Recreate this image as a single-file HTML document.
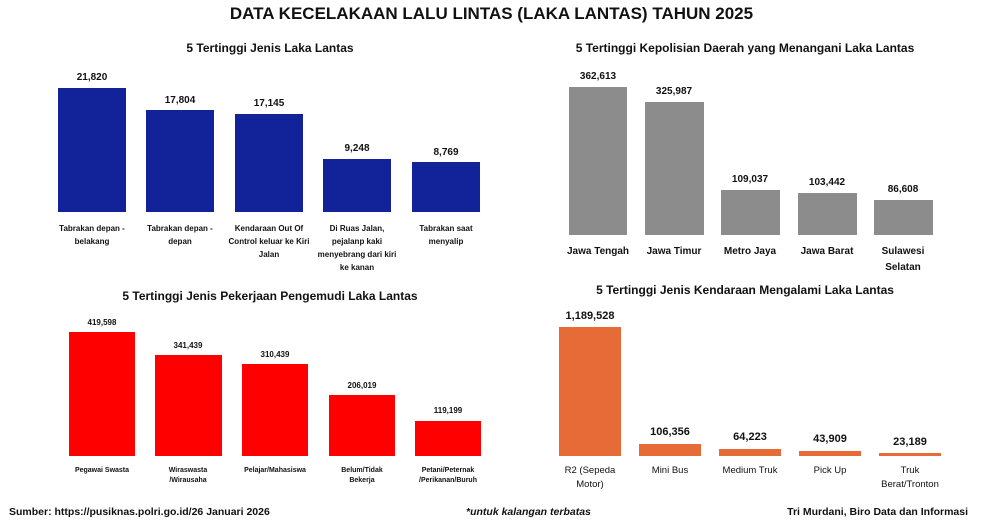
<!DOCTYPE html>
<html><head><meta charset="utf-8"><style>
body{margin:0;width:983px;height:532px;background:#fff;position:relative;overflow:hidden;font-family:"Liberation Sans",sans-serif;color:#111}
div{position:absolute}
.t{font-weight:bold;text-align:center;white-space:nowrap}
.v{font-weight:bold;text-align:center;font-size:10px;width:100px}
.l{text-align:center;font-size:8px;line-height:13px;font-weight:bold}
.l2{text-align:center;font-size:10px;line-height:16px;font-weight:bold}
.l3{text-align:center;font-size:9.5px;line-height:14px}
.l4{text-align:center;font-size:7px;line-height:10px;font-weight:bold}
</style></head><body>
<div class="t" style="left:0;width:983px;top:4px;font-size:17px">DATA KECELAKAAN LALU LINTAS (LAKA LANTAS) TAHUN 2025</div>

<div class="t" style="left:40px;width:460px;top:41px;font-size:12px">5 Tertinggi Jenis Laka Lantas</div>
<div class="t" style="left:520px;width:450px;top:41px;font-size:12px">5 Tertinggi Kepolisian Daerah yang Menangani Laka Lantas</div>
<div class="t" style="left:40px;width:460px;top:289px;font-size:12px">5 Tertinggi Jenis Pekerjaan Pengemudi Laka Lantas</div>
<div class="t" style="left:520px;width:450px;top:283px;font-size:12px">5 Tertinggi Jenis Kendaraan Mengalami Laka Lantas</div>

<!-- TL blue -->
<div style="left:58px;top:88px;width:68px;height:124px;background:#12239a"></div>
<div style="left:146px;top:110px;width:68px;height:102px;background:#12239a"></div>
<div style="left:235px;top:114px;width:68px;height:98px;background:#12239a"></div>
<div style="left:323px;top:159px;width:68px;height:53px;background:#12239a"></div>
<div style="left:412px;top:162px;width:68px;height:50px;background:#12239a"></div>
<div class="v" style="left:42px;top:72px">21,820</div>
<div class="v" style="left:130px;top:95px">17,804</div>
<div class="v" style="left:219px;top:98px">17,145</div>
<div class="v" style="left:307px;top:143px">9,248</div>
<div class="v" style="left:396px;top:147px">8,769</div>
<div class="l" style="left:54px;width:76px;top:222px">Tabrakan depan - belakang</div>
<div class="l" style="left:142px;width:76px;top:222px">Tabrakan depan - depan</div>
<div class="l" style="left:228px;width:82px;top:222px">Kendaraan Out Of Control keluar ke Kiri Jalan</div>
<div class="l" style="left:317px;width:80px;top:222px">Di Ruas Jalan, pejalanp kaki menyebrang dari kiri ke kanan</div>
<div class="l" style="left:408px;width:76px;top:222px">Tabrakan saat menyalip</div>

<!-- TR gray -->
<div style="left:569px;top:87px;width:58px;height:148px;background:#8c8c8c"></div>
<div style="left:645px;top:102px;width:59px;height:133px;background:#8c8c8c"></div>
<div style="left:721px;top:190px;width:59px;height:45px;background:#8c8c8c"></div>
<div style="left:798px;top:193px;width:59px;height:42px;background:#8c8c8c"></div>
<div style="left:874px;top:200px;width:59px;height:35px;background:#8c8c8c"></div>
<div class="v" style="left:548px;top:71px">362,613</div>
<div class="v" style="left:624px;top:86px">325,987</div>
<div class="v" style="left:700px;top:174px">109,037</div>
<div class="v" style="left:777px;top:177px">103,442</div>
<div class="v" style="left:853px;top:184px">86,608</div>
<div class="l2" style="left:558px;width:80px;top:244px">Jawa Tengah</div>
<div class="l2" style="left:634px;width:80px;top:244px">Jawa Timur</div>
<div class="l2" style="left:710px;width:80px;top:244px">Metro Jaya</div>
<div class="l2" style="left:787px;width:80px;top:244px">Jawa Barat</div>
<div class="l2" style="left:868px;width:70px;top:244px">Sulawesi Selatan</div>

<!-- BL red -->
<div style="left:69px;top:332px;width:66px;height:124px;background:#ff0000"></div>
<div style="left:155px;top:355px;width:67px;height:101px;background:#ff0000"></div>
<div style="left:242px;top:364px;width:66px;height:92px;background:#ff0000"></div>
<div style="left:329px;top:395px;width:66px;height:61px;background:#ff0000"></div>
<div style="left:415px;top:421px;width:66px;height:35px;background:#ff0000"></div>
<div class="v" style="left:52px;top:318px;font-size:8px">419,598</div>
<div class="v" style="left:138px;top:341px;font-size:8px">341,439</div>
<div class="v" style="left:225px;top:350px;font-size:8px">310,439</div>
<div class="v" style="left:312px;top:381px;font-size:8px">206,019</div>
<div class="v" style="left:398px;top:406px;font-size:8px">119,199</div>
<div class="l4" style="left:62px;width:80px;top:466px">Pegawai Swasta</div>
<div class="l4" style="left:158px;width:60px;top:466px">Wiraswasta /Wirausaha</div>
<div class="l4" style="left:230px;width:90px;top:466px">Pelajar/Mahasiswa</div>
<div class="l4" style="left:332px;width:60px;top:466px">Belum/Tidak Bekerja</div>
<div class="l4" style="left:413px;width:70px;top:466px">Petani/Peternak /Perikanan/Buruh</div>

<!-- BR orange -->
<div style="left:559px;top:327px;width:62px;height:129px;background:#e66b36"></div>
<div style="left:639px;top:444px;width:62px;height:12px;background:#e66b36"></div>
<div style="left:719px;top:449px;width:62px;height:7px;background:#e66b36"></div>
<div style="left:799px;top:451px;width:62px;height:5px;background:#e66b36"></div>
<div style="left:879px;top:453px;width:62px;height:3px;background:#e66b36"></div>
<div class="v" style="left:540px;top:310px;font-size:11px">1,189,528</div>
<div class="v" style="left:620px;top:426px;font-size:11px">106,356</div>
<div class="v" style="left:700px;top:431px;font-size:11px">64,223</div>
<div class="v" style="left:780px;top:433px;font-size:11px">43,909</div>
<div class="v" style="left:860px;top:436px;font-size:11px">23,189</div>
<div class="l3" style="left:555px;width:70px;top:464px">R2 (Sepeda Motor)</div>
<div class="l3" style="left:625px;width:90px;top:464px">Mini Bus</div>
<div class="l3" style="left:705px;width:90px;top:464px">Medium Truk</div>
<div class="l3" style="left:785px;width:90px;top:464px">Pick Up</div>
<div class="l3" style="left:872px;width:76px;top:464px">Truk Berat/Tronton</div>

<div style="left:9px;top:506px;font-size:10.5px;font-weight:bold">Sumber: https://pusiknas.polri.go.id/26 Januari 2026</div>
<div style="left:466px;top:506px;font-size:10.5px;font-weight:bold;font-style:italic">*untuk kalangan terbatas</div>
<div style="left:778px;top:506px;width:190px;text-align:right;font-size:10.5px;font-weight:bold;white-space:nowrap">Tri Murdani, Biro Data dan Informasi</div>
</body></html>
